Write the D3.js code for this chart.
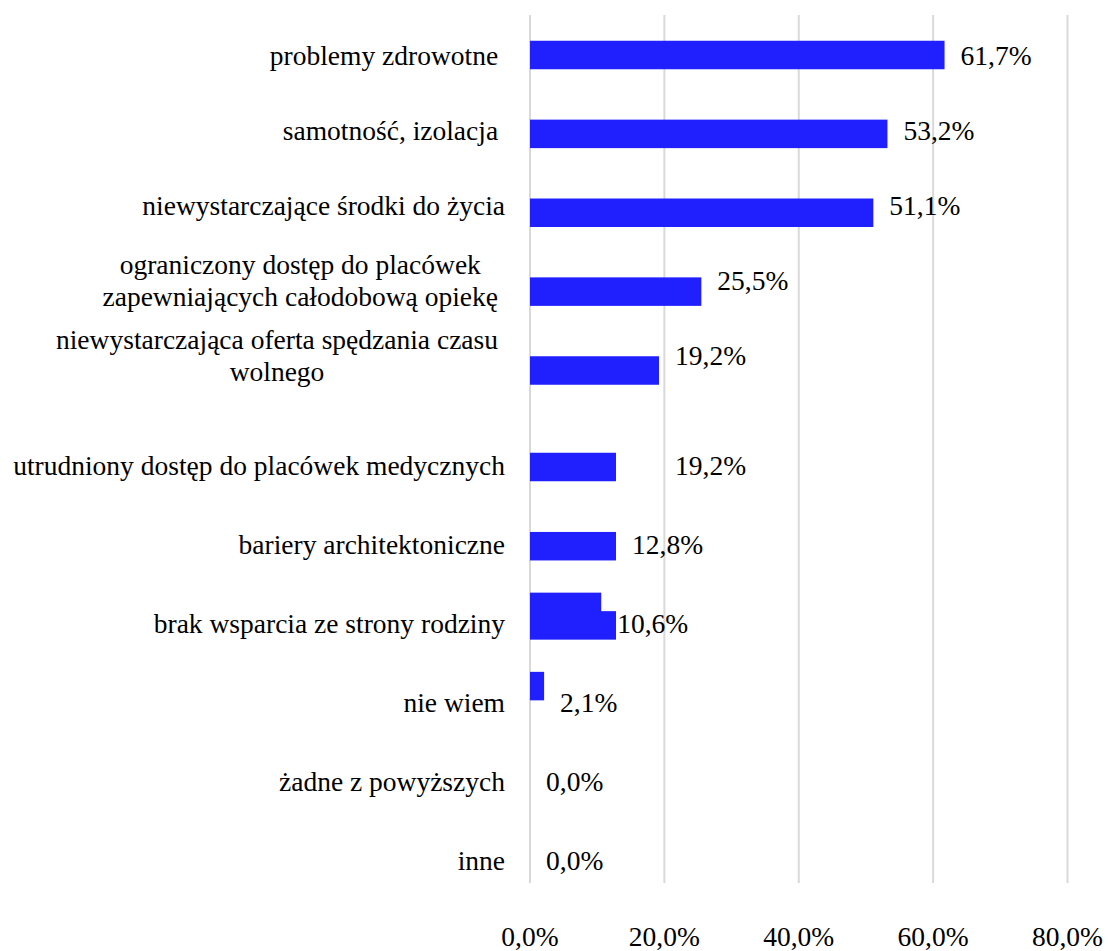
<!DOCTYPE html>
<html>
<head>
<meta charset="utf-8">
<script src="https://cdn.jsdelivr.net/npm/d3@7"></script>
<style>
  html, body { margin: 0; padding: 0; background: #ffffff; }
  svg { display: block; }
  text { font-family: "Times New Roman", "Liberation Serif", Times, serif; fill: #000; }
</style>
</head>
<body>
<svg id="chart" width="1108" height="951"></svg>
<script>
// ---- data ----
const categories = [
  "problemy zdrowotne ",
  "samotność, izolacja ",
  "niewystarczające środki do życia",
  "ograniczony dostęp do placówek\nzapewniających całodobową opiekę",
  "niewystarczająca oferta spędzania czasu\nwolnego",
  "utrudniony dostęp do placówek medycznych",
  "bariery architektoniczne",
  "brak wsparcia ze strony rodziny",
  "nie wiem",
  "żadne z powyższych",
  "inne"
];
// bars as drawn at each category's slot
const barValues = [61.7, 53.2, 51.1, 25.5, 19.2, 12.8, 12.8, 12.8, null, 0, 0];
// bars drawn slightly above their slot (second, offset series)
const offsetBarValues = [null, null, null, null, null, null, null, 10.6, 2.1, null, null];
// data label values
const labelValues = [61.7, 53.2, 51.1, 25.5, 19.2, 19.2, 12.8, 10.6, 2.1, 0.0, 0.0];
const tickValues = [0, 20, 40, 60, 80];

// ---- layout ----
const svg = d3.select("#chart");
const fontSize = 27.5;
const baseOff = 10;
const barColor = "#2020FF";
const gridColor = "#d9d9d9";
const barH = 28.5;
const offsetShift = -18.5;
const fmt = v => d3.format(".1f")(v).replace(".", ",") + "%";

const x = d3.scaleLinear().domain([0, 80]).range([530, 1067.5]);
const idx = d3.range(categories.length);
// slot centres for bars and for text (piecewise to follow the picture)
const yBar = d3.scaleLinear().domain([0, 4, 5, 10]).range([55, 370.5, 467, 863]);
const yText = d3.scaleLinear().domain([0, 4, 5, 10]).range([55, 355, 465, 860]);

// gridlines
svg.append("g").selectAll("line").data(tickValues).join("line")
  .attr("x1", d => x(d)).attr("x2", d => x(d))
  .attr("y1", 15).attr("y2", 883)
  .attr("stroke", gridColor).attr("stroke-width", 2);

// tick labels
svg.append("g").selectAll("text").data(tickValues).join("text")
  .attr("x", d => x(d)).attr("y", 946)
  .attr("text-anchor", "middle")
  .attr("font-size", fontSize)
  .text(d => fmt(d));

// offset series bars
svg.append("g").selectAll("rect")
  .data(idx.filter(i => offsetBarValues[i] != null)).join("rect")
  .attr("x", x(0))
  .attr("y", i => yBar(i) + offsetShift - barH / 2)
  .attr("width", i => x(offsetBarValues[i]) - x(0))
  .attr("height", barH)
  .attr("fill", barColor);

// main bars
svg.append("g").selectAll("rect")
  .data(idx.filter(i => barValues[i] != null)).join("rect")
  .attr("x", x(0))
  .attr("y", i => yBar(i) - barH / 2)
  .attr("width", i => x(barValues[i]) - x(0))
  .attr("height", barH)
  .attr("fill", barColor);

// value labels
svg.append("g").selectAll("text").data(idx).join("text")
  .attr("x", i => x(labelValues[i]) + 16)
  .attr("y", i => yText(i) + baseOff)
  .attr("font-size", fontSize)
  .text(i => fmt(labelValues[i]));

// category labels
const catG = svg.append("g");
const lineH = 32;
idx.forEach(i => {
  const lines = categories[i].split("\n");
  const c = yText(i);
  if (lines.length === 1) {
    catG.append("text")
      .attr("x", 505).attr("y", c + baseOff)
      .attr("text-anchor", "end")
      .attr("font-size", fontSize)
      .style("white-space", "pre")
      .text(lines[0]);
  } else {
    const t = catG.append("text").attr("font-size", fontSize).attr("text-anchor", "middle");
    const tsp = lines.map((ln, k) => t.append("tspan")
      .attr("y", c - (lines.length - 1) * lineH / 2 + k * lineH + baseOff)
      .text(ln));
    const maxW = d3.max(tsp, s => s.node().getComputedTextLength());
    const cx = 498 - maxW / 2;
    tsp.forEach(s => s.attr("x", cx));
  }
});
</script>
</body>
</html>
